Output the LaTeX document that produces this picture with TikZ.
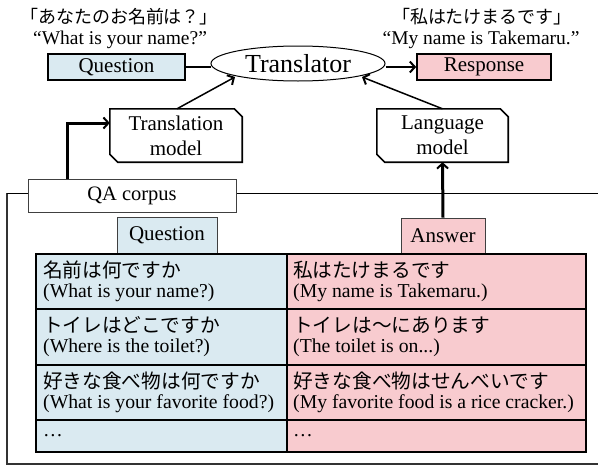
\documentclass[tikz,border=0pt]{standalone}
\usepackage{fontspec}
\setmainfont{Liberation Serif}
\newfontfamily\jp{Noto Sans CJK JP}
\usetikzlibrary{arrows.meta,shapes.geometric}
\definecolor{qblue}{RGB}{218,234,241}
\definecolor{apink}{RGB}{248,203,207}
\tikzset{
  thickbox/.style={draw=black, line width=1.6pt, inner sep=0pt},
  thinbox/.style={draw=black!75, line width=0.8pt, inner sep=0pt},
  cell/.style={draw=black, line width=1.6pt, anchor=north west, inner sep=0pt},
  celltext/.style={anchor=west, inner sep=0pt, align=left, font=\fontsize{19.7}{20.5}\selectfont},
  modelbox/.style={inner sep=0pt, minimum width=132pt, minimum height=53pt, align=center,
    font=\fontsize{21}{25}\selectfont},
  chamfer/.style={draw=black, line width=1.6pt, fill=white},
  barb/.style={-{Straight Barb[length=5pt,width=11pt,line width=2pt]}},
  lbl/.style={font=\fontsize{19.5}{22}\selectfont},
  jlbl/.style={font=\jp\fontsize{18}{22}\selectfont},
}
\begin{document}
\begin{tikzpicture}[x=1pt,y=-1pt]
\useasboundingbox (0,0) rectangle (598,466);
% top texts
\node[jlbl] (qjp) at (119,17) {「あなたのお名前は？」};
\node[lbl] (qen) at (120,40) {“What is your name?”};
\node[jlbl] (rjp) at (482,17) {「私はたけまるです」};
\node[lbl] (ren) at (481,40) {“My name is Takemaru.”};
% top row
\node[thickbox, fill=qblue, minimum width=137pt, minimum height=26pt, font=\fontsize{21}{22}\selectfont] (qbox) at (116.5,67) {Question};
\node[draw=black, line width=1pt, ellipse, inner sep=0pt, minimum width=174pt, minimum height=35pt, font=\fontsize{26}{28}\selectfont] (trans) at (298,63.5) {Translator};
\node[thickbox, fill=apink, minimum width=134pt, minimum height=26pt, font=\fontsize{21}{22}\selectfont] (rbox) at (484,67) {Response};
\draw[line width=2.5pt] (qbox.east) -- (trans.west |- qbox.east);
\draw[line width=2.5pt, barb] (trans.east |- rbox.west) -- (rbox.west);
% models
\node[modelbox] (tm) at (176,135.5) {};
\draw[chamfer] (tm.north west) -- ([xshift=-8pt]tm.north east) -- ([yshift=-8pt]tm.north east)
  -- (tm.south east) -- ([xshift=8pt]tm.south west) -- ([yshift=8pt]tm.south west) -- cycle;
\node[modelbox] (tmt) at (tm.center) {Translation\\model};
\node[modelbox, minimum width=131pt] (lm) at (442.5,135.5) {};
\draw[chamfer] (lm.north west) -- ([xshift=-8pt]lm.north east) -- ([yshift=-8pt]lm.north east)
  -- (lm.south east) -- ([xshift=8pt]lm.south west) -- ([yshift=8pt]lm.south west) -- cycle;
\node[modelbox, minimum width=131pt] (lmt) at (lm.center) {Language\\model};
\coordinate (tin) at (235,77);
\coordinate (lin) at (362,77);
\draw[line width=1.5pt, barb] ([xshift=1pt]tm.north) -- (tin);
\draw[line width=1.5pt, barb] (lm.north) -- (lin);
% frame
\draw[black!80, line width=1.2pt] (7,193) -- (7,464) -- (620,464);
\draw[black, line width=0.9pt] (7,193) -- (620,193);
% QA corpus
\node[thinbox, fill=white, minimum width=208pt, minimum height=33pt, font=\fontsize{20.5}{22}\selectfont] (qa) at (132,195.5) {QA corpus};
\draw[line width=3pt, barb] (67,179) -- (67,123) -- (tm.west |- 0,123);
% labels
\node[thinbox, fill=qblue, minimum width=100pt, minimum height=36pt, font=\fontsize{21}{22}\selectfont] (ql) at (167,235) {Question};
\node[thinbox, fill=apink, minimum width=84pt, minimum height=35pt, font=\fontsize{21}{22}\selectfont] (al) at (443,235.5) {Answer};
\draw[line width=3pt, barb] (al.north) -- (lm.south);
% table cells
\node[cell, fill=qblue, minimum width=251pt, minimum height=55pt] (q1) at (35,253) {};
\node[cell, fill=qblue, minimum width=251pt, minimum height=56pt] (q2) at (35,308) {};
\node[cell, fill=qblue, minimum width=251pt, minimum height=55pt] (q3) at (35,364) {};
\node[cell, fill=qblue, minimum width=251pt, minimum height=32pt] (q4) at (35,419) {};
\node[cell, fill=apink, minimum width=299pt, minimum height=55pt] (a1) at (286,253) {};
\node[cell, fill=apink, minimum width=299pt, minimum height=56pt] (a2) at (286,308) {};
\node[cell, fill=apink, minimum width=299pt, minimum height=55pt] (a3) at (286,364) {};
\node[cell, fill=apink, minimum width=299pt, minimum height=32pt] (a4) at (286,419) {};
% table texts
\node[celltext] (q1t) at ([xshift=8pt]q1.west) {{\jp 名前は何ですか}\\(What is your name?)};
\node[celltext] (q2t) at ([xshift=8pt]q2.west) {{\jp トイレはどこですか}\\(Where is the toilet?)};
\node[celltext] (q3t) at ([xshift=8pt]q3.west) {{\jp 好きな食べ物は何ですか}\\(What is your favorite food?)};
\node[celltext] (q4t) at ([xshift=8pt]q4.west) {…};
\node[celltext] (a1t) at ([xshift=7pt]a1.west) {{\jp 私はたけまるです}\\(My name is Takemaru.)};
\node[celltext] (a2t) at ([xshift=7pt]a2.west) {{\jp トイレは〜にあります}\\(The toilet is on...)};
\node[celltext] (a3t) at ([xshift=7pt]a3.west) {{\jp 好きな食べ物はせんべいです}\\(My favorite food is a rice cracker.)};
\node[celltext] (a4t) at ([xshift=7pt]a4.west) {…};
\end{tikzpicture}
\end{document}
